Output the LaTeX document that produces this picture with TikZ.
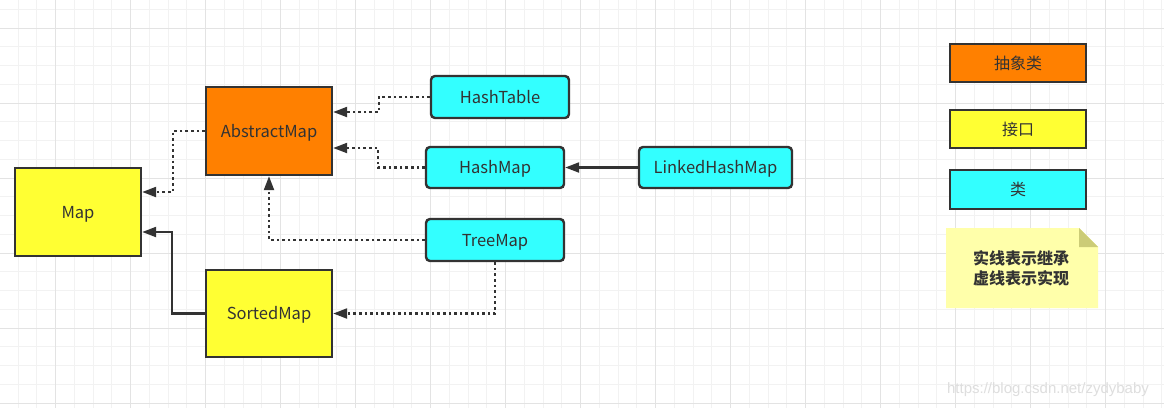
\documentclass[tikz,border=0pt]{standalone}
\usepackage{fontspec}
\setmainfont{Noto Sans CJK SC}
\newfontfamily\wmfont{Liberation Sans}
\usetikzlibrary{arrows.meta,calc}
\definecolor{absorange}{HTML}{FF8000}
\definecolor{ifyellow}{HTML}{FFFF33}
\definecolor{clscyan}{HTML}{33FFFF}
\definecolor{dark}{HTML}{333333}
\definecolor{notefill}{HTML}{FFFFAA}
\definecolor{notefold}{HTML}{CCCC77}
\definecolor{gridminor}{HTML}{F2F2F2}
\definecolor{gridmajor}{HTML}{E3E3E3}
\begin{document}
\begin{tikzpicture}[x=1pt,y=-1pt,
  box/.style={draw=dark,line width=2.4pt,text=dark,font=\fontsize{16.5}{18}\selectfont,inner sep=0pt,text height=12.5pt,text depth=0pt},
  absbox/.style={box,fill=absorange},
  ifbox/.style={box,fill=ifyellow},
  clsbox/.style={box,fill=clscyan,rounded corners=4pt},
  legendbox/.style={font=\fontsize{16}{18}\selectfont},
  conn/.style={draw=dark,line width=2.2pt,-{Triangle[length=14pt,width=10pt]}},
  dotconn/.style={conn,dash pattern=on 2.6pt off 3pt},
]
\useasboundingbox (0,0) rectangle (1164,408);
\fill[white] (0,0) rectangle (1164,408);
% grid
\foreach \k in {0,...,62} {
  \draw[gridminor,line width=1pt] ({-0.75+18.75*\k},0) -- ({-0.75+18.75*\k},408);
}
\foreach \k in {0,...,21} {
  \draw[gridminor,line width=1pt] (0,{9.25+18.75*\k}) -- (1164,{9.25+18.75*\k});
}
\foreach \k in {0,...,15} {
  \draw[gridmajor,line width=1pt] ({55.5+75*\k},0) -- ({55.5+75*\k},408);
}
\foreach \k in {0,...,5} {
  \draw[gridmajor,line width=1pt] (0,{28+75*\k}) -- (1164,{28+75*\k});
}
% watermark
\node[text=black!13,font=\wmfont\fontsize{15}{16}\selectfont,inner sep=0pt] (wm) at (1048,390) {https://blog.csdn.net/zydybaby};

% nodes
\node[ifbox,minimum width=126pt,minimum height=88pt] (map) at (78,212) {Map};
\node[absbox,minimum width=126pt,minimum height=88pt] (am) at (269,131) {AbstractMap};
\node[ifbox,minimum width=126pt,minimum height=87pt] (sm) at (269,313.5) {SortedMap};
\node[clsbox,minimum width=138pt,minimum height=42pt] (ht) at (500,97) {HashTable};
\node[clsbox,minimum width=138pt,minimum height=41pt] (hm) at (495,167.5) {HashMap};
\node[clsbox,minimum width=138pt,minimum height=42pt] (tm) at (495,240) {TreeMap};
\node[clsbox,minimum width=153pt,minimum height=41pt] (lhm) at (715.5,167.5) {LinkedHashMap};

% legend
\node[absbox,legendbox,minimum width=136pt,minimum height=38pt] (lgabs) at (1018,63) {抽象类};
\node[ifbox,legendbox,minimum width=136pt,minimum height=38pt] (lgif) at (1018,129) {接口};
\node[clsbox,legendbox,rounded corners=0pt,minimum width=136pt,minimum height=39pt] (lgcls) at (1018,189.5) {类};
\fill[notefill] (946,228) -- (1079,228) -- (1098,247) -- (1098,308) -- (946,308) -- cycle;
\fill[notefold] (1079,228) -- (1098,247) -- (1079,247) -- cycle;
\node[text=dark,font=\bfseries\fontsize{16}{20}\selectfont,align=center,inner sep=0pt] (note) at (1021,268) {实线表示继承\\虚线表示实现};

% connectors
\draw[dotconn] (am.west) -- ++(-32,0) |- ($(map.east)+(0,-20)$);
\draw[dotconn] (ht.west) -- ++(-51,0) |- ($(am.east)+(0,-19)$);
\draw[dotconn] (hm.west) -- ++(-47,0) |- ($(am.east)+(0,17)$);
\draw[dotconn] (tm.west) -| (am.south);
\draw[dotconn] (tm.south) |- (sm.east);
\draw[conn] (sm.west) -- ++(-33,0) |- ($(map.east)+(0,20)$);
\draw[conn] (lhm.west) -- (hm.east);
\end{tikzpicture}
\end{document}
